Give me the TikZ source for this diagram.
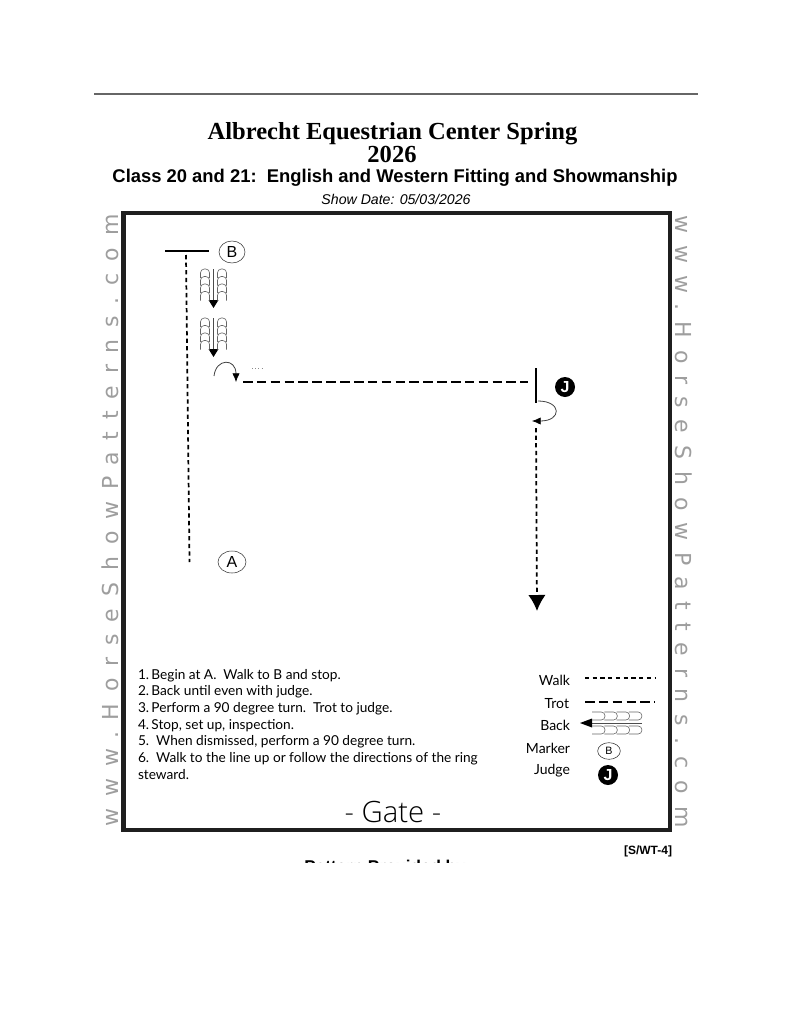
\documentclass[tikz,border=0pt]{standalone}
\usepackage{fontspec}
\usetikzlibrary{arrows.meta,shapes.geometric}
\setmainfont{Liberation Serif}
\setsansfont{Liberation Sans}
\newfontfamily\notefont{Lato}
\newfontfamily\gatefont{Open Sans Light}
\newfontfamily\markfont[LetterSpace=54]{DejaVu Sans}
\begin{document}
\begin{tikzpicture}[
    x=0.75pt, y=-0.75pt,
    every node/.style={inner sep=0pt, outer sep=0pt},
    headline/.style={anchor=base, font=\bfseries\fontsize{18.4}{20}\selectfont},
    watermark/.style={anchor=base, text=black!38, font=\markfont\fontsize{16.5}{18}\selectfont},
    legendlabel/.style={anchor=east, font=\notefont\fontsize{10.5}{12}\selectfont},
    marker/.style={ellipse, draw, black!80, text=black, thin, font=\sffamily\fontsize{12}{14}\selectfont},
    judge/.style={circle, fill=black, text=white, minimum size=15pt, font=\sffamily\bfseries\fontsize{12}{14}\selectfont},
    walk/.style={draw, line width=1.3pt, dash pattern=on 3.2pt off 2.5pt},
    trot/.style={draw, line width=1.2pt, dash pattern=on 7.2pt off 3.2pt},
    bar/.style={draw, line width=1.1pt},
    turn/.style={draw, black!75, line width=0.6pt},
    shoe/.style={draw, black!60, line width=0.45pt, rounded corners=2.8pt},
    tip/.style={fill=black}
]
\useasboundingbox (0,0) rectangle (791,1024);
\fill[white] (0,0) rectangle (791,1024);
\draw[black!60, line width=1.5pt] (94,94.5) -- (698,94.5);
% heading
\node[headline] (title) at (392.5,139) {Albrecht Equestrian Center Spring};
\node[headline] (year) at (392,162) {2026};
\node[anchor=base, font=\sffamily\bfseries\fontsize{13.8}{16}\selectfont] (class) at (395,182) {Class 20 and 21:\ \ English and Western Fitting and Showmanship};
\node[anchor=base, font=\sffamily\itshape\fontsize{10.6}{12}\selectfont] (date) at (396,204) {Show Date: 05/03/2026};
% arena
\draw[black!88, line width=3.2pt] (123.5,213) rectangle (670,830);
\node[watermark, rotate=90] (markleft) at (118,520.5) {www.HorseShowPatterns.com};
\node[watermark, rotate=-90] (markright) at (675,521.5) {www.HorseShowPatterns.com};
% markers
\node[marker, minimum width=19.5pt, minimum height=16.5pt] (B) at (232,252) {B};
\node[marker, minimum width=21pt, minimum height=16.5pt] (A) at (232,562) {A};
\node[judge] (J) at (565,387) {J};
% pattern
\coordinate (stopleft) at (165,251);
\coordinate (stopright) at (209,251);
\coordinate (walktop) at (186,255);
\coordinate (walkstart) at (189.5,562);
\coordinate (turnstart) at (214,376);
\coordinate (turnend) at (236,382);
\coordinate (trotstart) at (243,382);
\coordinate (trotend) at (528,382);
\coordinate (judgetop) at (536,368);
\coordinate (judgeend) at (536,403);
\coordinate (exitstart) at (538,401);
\coordinate (exitend) at (532,421);
\coordinate (walkout) at (536,428);
\coordinate (finish) at (537,611);
\path[bar] (stopleft) -- (stopright);
\path[walk] (walktop) -- (walkstart);
\path[trot] (trotstart) -- (trotend);
\path[bar] (judgetop) -- (judgeend);
\path[turn, -{Latex[length=6.5pt,width=5.5pt,black]}] (turnstart) .. controls (216,358) and (236,358) .. (turnend);
\path[turn, -{Latex[length=6.5pt,width=5.5pt,black]}] (exitstart) .. controls (562,401) and (562,421) .. (exitend);
\path[walk, -{Latex[length=12pt,width=13pt]}] (walkout) -- (finish);
\draw[black!45, line width=0.4pt, dotted] (252,368) -- (262,368);
% back steps
\foreach \ytop in {269,318} {
    \draw[black!70, line width=0.5pt] (213.5,\ytop) -- (213.5,\ytop+32);
    \fill[tip] (208.5,\ytop+31) -- (218.5,\ytop+31) -- (213.5,\ytop+39) -- cycle;
    \foreach \row in {0,1,2,3} {
        \foreach \xmid in {205,222} {
            \draw[shoe] (\xmid-4.5,\ytop+\row*7.5+9) -- (\xmid-4.5,\ytop+\row*7.5) -- (\xmid+4.5,\ytop+\row*7.5) -- (\xmid+4.5,\ytop+\row*7.5+9);
        }
    }
}
% directions
\node[anchor=north west, align=left, font=\notefont\fontsize{10.25}{12.5}\selectfont] (directions) at (138,669) {1.\,Begin at A.\ \ Walk to B and stop.\\
2.\,Back until even with judge.\\
3.\,Perform a 90 degree turn.\ \ Trot to judge.\\
4.\,Stop, set up, inspection.\\
5.\ \ When dismissed, perform a 90 degree turn.\\
6.\ \ Walk to the line up or follow the directions of the ring\\
steward.};
% legend
\node[legendlabel] (walklabel) at (570,680.5) {Walk};
\node[legendlabel] (trotlabel) at (569,703.5) {Trot};
\node[legendlabel] (backlabel) at (570,725.5) {Back};
\node[legendlabel] (markerlabel) at (570,748) {Marker};
\node[legendlabel] (judgelabel) at (570,770.5) {Judge};
\coordinate (walkleft) at (585,678);
\coordinate (walkright) at (655,678);
\coordinate (trotleft) at (585,702);
\coordinate (trotright) at (655,702);
\path[draw, line width=0.8pt, dash pattern=on 3.2pt off 2.6pt] (walkleft) -- (walkright);
\path[trot] (trotleft) -- (trotright);
\draw[black!70, line width=0.5pt] (590,723) -- (642,723);
\fill[tip] (580,723) -- (592,718.5) -- (592,727.5) -- cycle;
\foreach \col in {0,1,2,3} {
    \foreach \ymid in {716,730} {
        \draw[shoe] (592+\col*12.3,\ymid-4) -- (605+\col*12.3,\ymid-4) -- (605+\col*12.3,\ymid+4) -- (592+\col*12.3,\ymid+4);
    }
}
\node[marker, minimum width=17pt, minimum height=12.5pt, font=\sffamily\fontsize{8}{10}\selectfont] (markerkey) at (609,751) {B};
\node[judge] (judgekey) at (608,775) {J};
% foot
\node[anchor=base, font=\gatefont\fontsize{22}{24}\selectfont] (gate) at (393,822) {- Gate -};
\node[anchor=base east, font=\sffamily\bfseries\fontsize{9}{10}\selectfont] (code) at (672,854) {[S/WT-4]};
\begin{scope}
    \clip (0,840) rectangle (791,862);
    \node[anchor=base, font=\sffamily\bfseries\fontsize{12.8}{14}\selectfont] (provided) at (385,872.5) {Pattern Provided by};
\end{scope}
\end{tikzpicture}
\end{document}
